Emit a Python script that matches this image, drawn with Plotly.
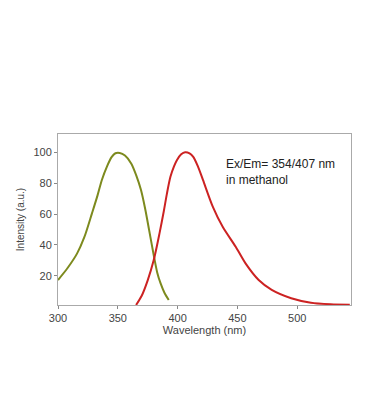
import plotly.graph_objects as go

ex_wl = [300, 308, 316, 322, 328.4, 333, 336.6, 341, 344.8, 348, 351.6, 356, 361.2, 365.5, 369.4, 373, 376.2, 380.3, 383, 385.8, 389, 392.6]
ex_int = [17.2, 25, 34.5, 45, 60.5, 72, 82, 91, 97, 99.5, 99.7, 98, 92.9, 85, 75.6, 63, 49.6, 32.3, 22, 15, 9, 4.3]

em_wl = [365.3, 370, 375, 380, 385, 388.5, 391, 394, 397, 399.4, 403, 406.3, 410, 413.1, 417, 421.3, 429.5, 437.7, 448.6, 456.8, 467.8, 478.7, 495, 511.5, 527.9, 544]
em_int = [1, 7, 17, 30, 48, 62, 73, 84.2, 91, 95, 98.8, 100.2, 99.5, 97.2, 91, 82, 64.7, 51.8, 38.8, 28, 17.2, 10.8, 5.4, 2.5, 1.5, 1.2]

x_ticks = [300, 350, 400, 450, 500]
y_ticks = [20, 40, 60, 80, 100]

fig = go.Figure()
fig.add_trace(go.Scatter(x=ex_wl, y=ex_int, mode="lines", line=dict(color="#7d8a1e", width=2, shape="spline", smoothing=0.8), name="Ex"))
fig.add_trace(go.Scatter(x=em_wl, y=em_int, mode="lines", line=dict(color="#cc2222", width=2, shape="spline", smoothing=0.8), name="Em"))

fig.add_annotation(x=0.565, y=0.825, xref="paper", yref="paper", xanchor="left", yanchor="middle",
                   text="Ex/Em= 354/407 nm", showarrow=False, font=dict(size=12, color="#222", family="Liberation Sans, Arial"))
fig.add_annotation(x=0.565, y=0.73, xref="paper", yref="paper", xanchor="left", yanchor="middle",
                   text="in methanol", showarrow=False, font=dict(size=12, color="#222", family="Liberation Sans, Arial"))

axis_common = dict(showline=True, linecolor="#aaaaaa", linewidth=1, mirror=True, showgrid=False, zeroline=False,
                   ticks="outside", ticklen=3, tickcolor="#888888", tickfont=dict(size=11, color="#444"))
fig.update_xaxes(range=[300, 545], tickvals=x_ticks, title=dict(text="Wavelength (nm)", font=dict(size=11, color="#444"), standoff=2), **axis_common)
fig.update_yaxes(range=[1, 112], tickvals=y_ticks, title=dict(text="Intensity (a.u.)", font=dict(size=10, color="#444"), standoff=6), **axis_common)

fig.update_layout(width=368, height=420, margin=dict(l=44, r=25, t=126, b=123),
                  paper_bgcolor="white", plot_bgcolor="white", showlegend=False,
                  font=dict(family="Liberation Sans, Arial"))
fig.write_html("out.html")
